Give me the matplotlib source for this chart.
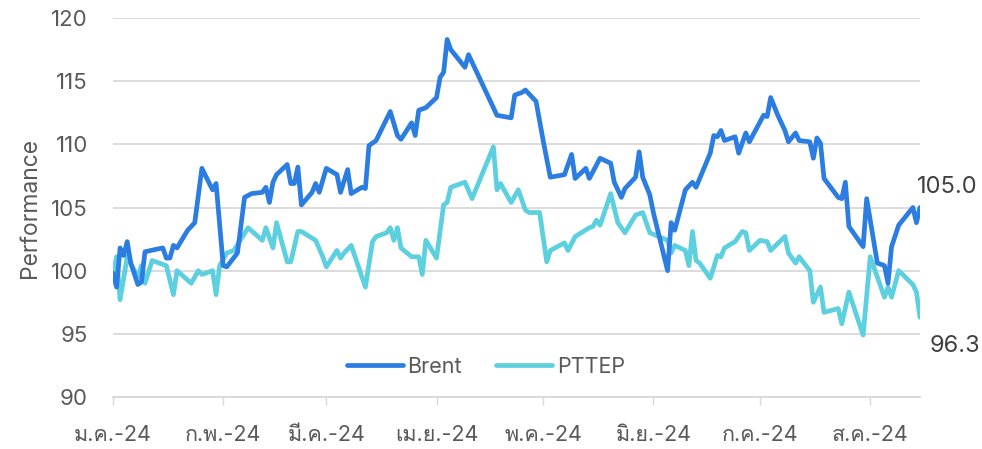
import numpy as np
import pandas as pd
import matplotlib
matplotlib.use("Agg")
import matplotlib.pyplot as plt
from matplotlib import font_manager
from matplotlib.ft2font import FT2Font

# days since 1 Jan 2024
brent_day = [0, 1, 2, 3, 4, 5, 7, 8, 9, 14, 15, 16, 17, 18, 21, 23, 25, 28, 29, 31,
             32, 35, 37, 39, 42, 43, 44, 45, 46, 49, 50, 51, 52, 53, 56, 57, 58, 60, 63, 64,
             66, 67, 70, 71, 72, 74, 78, 80, 81, 84, 85, 86, 88, 91, 92, 93, 94, 95, 99, 100,
             108, 112, 113, 115, 116, 119, 121, 123, 127, 129, 130, 133, 134, 137, 140, 141, 143, 144, 147, 148,
             149, 151, 152, 156, 157, 158, 161, 163, 164, 168, 169, 170, 171, 172, 175, 176, 178, 179, 183, 184,
             185, 187, 189, 190, 192, 193, 196, 197, 198, 199, 200, 204, 205, 206, 207, 211, 212, 213, 215, 217,
             218, 219, 221, 225, 226, 227]
brent_val = [99.8, 98.7, 101.8, 101.2, 102.3, 100.6, 98.9, 99.1, 101.5, 101.8, 101.0, 101.0, 102.0, 101.8, 103.2, 103.8, 108.1, 106.4, 106.9, 100.4,
             100.3, 101.4, 105.8, 106.1, 106.2, 106.6, 105.4, 107.0, 107.6, 108.4, 106.9, 106.9, 108.2, 105.2, 106.2, 106.9, 106.2, 108.1, 107.6, 106.2,
             108.0, 106.1, 106.6, 106.5, 109.9, 110.3, 112.6, 110.7, 110.4, 111.7, 110.7, 112.7, 112.9, 113.7, 115.3, 115.7, 118.3, 117.5, 116.1, 117.1,
             112.3, 112.1, 113.9, 114.1, 114.3, 113.4, 110.3, 107.4, 107.6, 109.2, 107.3, 108.1, 107.3, 108.9, 108.5, 107.0, 105.8, 106.5, 107.4, 109.4,
             107.4, 106.0, 104.6, 100.0, 103.8, 103.2, 106.4, 107.0, 106.6, 109.3, 110.7, 110.6, 111.1, 110.3, 110.6, 109.3, 110.9, 110.2, 112.3, 112.2,
             113.7, 112.3, 111.1, 110.2, 110.9, 110.3, 110.2, 108.9, 110.5, 110.1, 107.3, 105.8, 105.7, 107.0, 103.5, 101.9, 105.7, 104.0, 100.6, 100.4,
             99.0, 101.9, 103.6, 105.0, 103.8, 105.0]

pttep_day = [0, 1, 2, 4, 7, 8, 9, 11, 15, 17, 18, 22, 24, 25, 28, 29, 30, 32, 34, 38,
             42, 43, 45, 46, 49, 50, 52, 53, 57, 59, 60, 63, 64, 65, 67, 71, 73, 74, 77, 78,
             79, 80, 81, 84, 86, 87, 88, 91, 93, 94, 95, 99, 101, 107, 108, 109, 112, 114, 116, 117,
             120, 122, 123, 127, 128, 130, 134, 135, 136, 137, 140, 142, 144, 147, 149, 151, 156, 157, 158, 161,
             162, 163, 164, 165, 168, 170, 171, 172, 175, 177, 178, 179, 182, 184, 185, 189, 190, 192, 193, 196,
             197, 199, 200, 204, 205, 207, 211, 213, 217, 218, 219, 221, 225, 226, 227]
pttep_val = [99.6, 101.1, 97.7, 101.1, 99.5, 100.4, 99.0, 100.8, 100.4, 98.1, 100.0, 99.0, 100.0, 99.7, 100.0, 98.1, 100.4, 101.4, 101.6, 103.4,
             102.4, 103.4, 101.8, 103.8, 100.7, 100.7, 103.1, 103.1, 102.4, 101.1, 100.3, 101.6, 101.0, 101.4, 102.0, 98.7, 102.3, 102.7, 103.0, 103.4,
             102.4, 103.4, 101.8, 101.1, 101.1, 99.7, 102.4, 101.0, 105.2, 105.4, 106.6, 107.0, 105.7, 109.8, 106.4, 106.9, 105.4, 106.4, 104.8, 104.6,
             104.6, 100.7, 101.6, 102.2, 101.6, 102.7, 103.4, 103.5, 104.0, 103.6, 106.1, 103.8, 103.0, 104.4, 104.6, 103.0, 102.4, 101.4, 102.0, 101.6,
             100.4, 103.1, 100.8, 100.6, 99.4, 101.2, 101.1, 101.8, 102.3, 103.1, 103.0, 101.6, 102.4, 102.3, 101.6, 102.7, 101.4, 100.6, 101.1, 100.0,
             97.5, 98.7, 96.7, 97.0, 95.8, 98.3, 94.9, 101.1, 97.9, 98.7, 97.9, 100.0, 98.9, 98.3, 96.3]

month_labels = ["ม.ค.-24", "ก.พ.-24", "มี.ค.-24", "เม.ย.-24", "พ.ค.-24", "มิ.ย.-24", "ก.ค.-24", "ส.ค.-24"]


def thai_family():
    # find any installed font that actually has Thai glyphs
    for f in font_manager.fontManager.ttflist:
        try:
            if FT2Font(f.fname).get_char_index(ord("ก")):
                return f.name
        except Exception:
            pass
    return None


th = thai_family()
fams = ["Inter", "DejaVu Sans"]
if th:
    fams.insert(1, th)
plt.rcParams["font.family"] = fams

start = pd.Timestamp("2024-01-01")
brent_x = start + pd.to_timedelta(brent_day, unit="D")
pttep_x = start + pd.to_timedelta(pttep_day, unit="D")

fig = plt.figure(figsize=(9.82, 4.49), dpi=100)
ax = fig.add_axes([113 / 982, 1 - 397 / 449, (920 - 113) / 982, (397 - 18) / 449])

ax.plot(brent_x, brent_val, color="#2b7de1", lw=3.4, solid_joinstyle="round", solid_capstyle="round",
        label="Brent", zorder=3)
ax.plot(pttep_x, pttep_val, color="#5dd0df", lw=3.4, solid_joinstyle="round", solid_capstyle="round",
        label="PTTEP", zorder=2)

ax.set_ylim(90, 120)
ax.set_yticks(range(90, 121, 5))
ax.set_xlim(start, start + pd.Timedelta(days=227))
ticks = pd.date_range("2024-01-01", periods=8, freq="MS")
ax.set_xticks(ticks)
ax.set_xticklabels(month_labels)

ax.grid(axis="y", color="#d9d9d9", lw=1.3)
ax.set_axisbelow(True)
for s in ["top", "right", "left"]:
    ax.spines[s].set_visible(False)
ax.spines["bottom"].set_color("#d9d9d9")
ax.spines["bottom"].set_linewidth(1.3)
ax.tick_params(axis="y", length=0, labelsize=16, labelcolor="#595959", pad=18)
ax.tick_params(axis="x", length=6, color="#d9d9d9", width=1, labelsize=15.5, labelcolor="#595959", pad=14)
ax.set_ylabel("Performance", fontsize=16.5, color="#595959", labelpad=7)

ax.annotate(f"{brent_val[-1]:.1f}", (brent_x[-1], brent_val[-1]), xytext=(-2, 7),
            textcoords="offset points", fontsize=17, color="#404040", va="bottom", ha="left",
            annotation_clip=False)
ax.annotate(f"{pttep_val[-1]:.1f}", (pttep_x[-1], pttep_val[-1]), xytext=(7, -13),
            textcoords="offset points", fontsize=17, color="#404040", va="top", ha="left",
            annotation_clip=False)

ax.legend(loc="center", bbox_to_anchor=(373 / 807, 30 / 379), ncol=2, frameon=False,
          fontsize=15.5, labelcolor="#595959", handlelength=2.6, handletextpad=0.2, columnspacing=1.6)

fig.savefig("out.png", dpi=100)
